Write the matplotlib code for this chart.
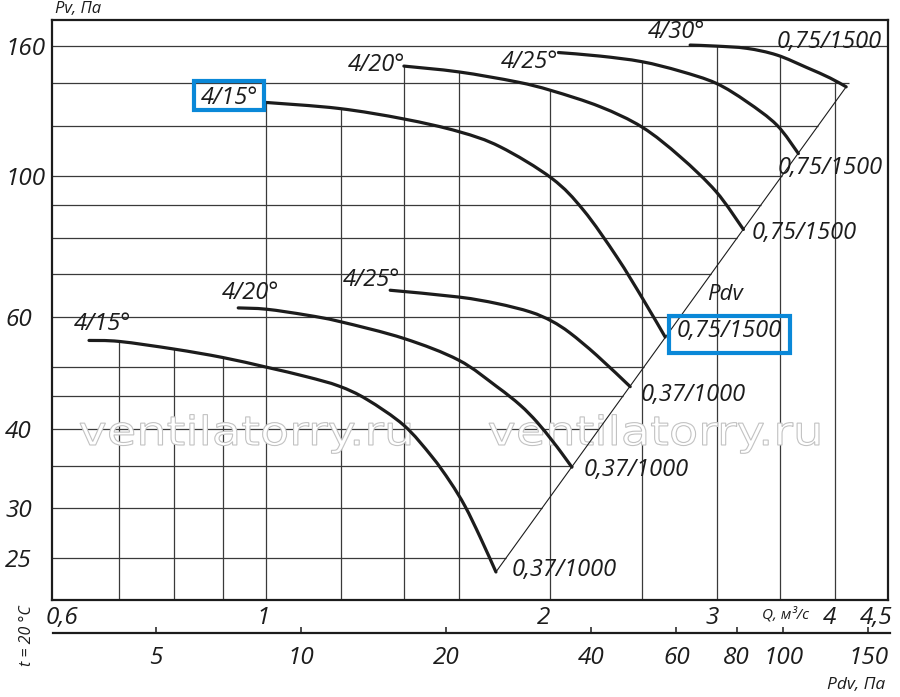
import numpy as np
import matplotlib
matplotlib.use("Agg")
import matplotlib.pyplot as plt
from matplotlib.ticker import FixedLocator, FixedFormatter, NullLocator
from matplotlib.patches import Rectangle, PathPatch
from matplotlib.path import Path
from matplotlib.textpath import TextPath
from matplotlib.font_manager import FontProperties
from matplotlib.transforms import Affine2D, ScaledTranslation

plt.rcParams['font.family'] = ['Open Sans', 'DejaVu Sans']

# ---------------- data (Q in m3/s, Pv in Pa) ----------------
q_up15 = [1.00, 1.194, 1.40, 1.60, 1.77, 2.007, 2.168, 2.352, 2.51, 2.646]
p_up15 = [130.6, 127.8, 123.0, 117.5, 111.2, 99.2, 88.4, 74.6, 63.8, 55.8]

q_up20 = [1.40, 1.60, 1.843, 2.007, 2.258, 2.502, 2.744, 2.996, 3.202]
p_up20 = [149.0, 145.9, 140.7, 136.3, 128.6, 119.4, 107.3, 94.5, 82.4]

q_up25 = [2.040, 2.258, 2.500, 2.744, 2.996, 3.229, 3.474, 3.661]
p_up25 = [156.5, 154.5, 151.4, 146.3, 140.0, 130.9, 120.3, 108.5]

q_up30 = [2.812, 2.996, 3.229, 3.474, 3.737, 3.955, 4.113]
p_up30 = [160.8, 160.2, 158.9, 155.1, 148.2, 142.7, 138.2]

q_lo15 = [0.65, 0.70, 0.80, 0.90, 1.002, 1.105, 1.195, 1.279, 1.40, 1.498, 1.567, 1.625, 1.686, 1.752]
p_lo15 = [55.1, 54.9, 53.4, 51.8, 50.0, 48.3, 46.7, 44.5, 40.5, 36.2, 33.0, 30.2, 27.0, 23.8]

q_lo20 = [0.935, 1.002, 1.105, 1.198, 1.40, 1.60, 1.756, 1.858, 1.936, 2.007, 2.057, 2.108]
p_lo20 = [62.0, 61.7, 60.4, 59.0, 55.5, 51.3, 46.6, 43.6, 41.0, 38.4, 36.6, 34.8]

q_lo25 = [1.354, 1.599, 1.756, 1.905, 2.007, 2.099, 2.240, 2.430]
p_lo25 = [66.1, 64.5, 63.0, 61.1, 59.1, 56.6, 52.2, 46.6]

angle_labels = ['4/15°', '4/20°', '4/25°', '4/15°', '4/20°', '4/25°', '4/30°']
motor_labels = ['0,37/1000', '0,37/1000', '0,37/1000',
                '0,75/1500', '0,75/1500', '0,75/1500', '0,75/1500']

grid_q = [0.7, 0.8, 0.9, 1.0, 1.2, 1.4, 1.6, 2.0, 2.5, 3.0, 3.5, 4.0]
grid_p = [25, 30, 35, 40, 45, 50, 60, 70, 80, 90, 100, 120, 140, 160]

q_ticks = [0.6, 1, 2, 3, 4, 4.5]
q_tick_labels = ['0,6', '1', '2', '3', '4', '4,5']
p_ticks = [25, 30, 40, 60, 100, 160]
p_tick_labels = ['25', '30', '40', '60', '100', '160']
pdv_ticks = [5, 10, 20, 40, 60, 80, 100, 150]
pdv_tick_labels = ['5', '10', '20', '40', '60', '80', '100', '150']

curves = [(q_lo15, p_lo15), (q_lo20, p_lo20), (q_lo25, p_lo25),
          (q_up15, p_up15), (q_up20, p_up20), (q_up25, p_up25), (q_up30, p_up30)]

# ---------------- layout / style ----------------
W, H = 900, 697
INK = '#1c1c1c'
GRID = '#3a3a3a'
BLUE = '#0a88d8'
LBL = 17
TICK = 17.5
# (start label offset pt, start ha, end label offset pt)
label_layout = [((10, 11.7), 'center', (11.5, 1.7)),
                ((9.1, 10.4), 'center', (8.4, -1.9)),
                ((-13.4, 7.2), 'center', (7.2, -6.0)),
                ((-5.5, 2.9), 'right', (8.4, 4.3)),
                ((1.2, 0.7), 'right', (6.0, -2.7)),
                ((0.0, -6.8), 'right', (-15.1, -10.7)),
                ((10.8, 9.6), 'right', (-49.9, 32.4))]
q_label_shift_px = [6, -3, -7, -5, -5, -7]

fig = plt.figure(figsize=(W / 100, H / 100), dpi=100)
ax = fig.add_axes([51.7 / W, 1 - 600 / H, 836 / W, 580 / H])
ax.set_xscale('log')
ax.set_yscale('log')
xlim = (0.5935, 4.551)
ylim = (21.5, 176.1)
ax.set_xlim(*xlim)
ax.set_ylim(*ylim)
ax.set_autoscale_on(False)

for s in ax.spines.values():
    s.set_linewidth(1.6)
    s.set_color(INK)

# Pdv reference line through the two extreme curve ends (log-log straight line)
pq0, pp0 = q_lo15[-1], p_lo15[-1]
pq1, pp1 = q_up30[-1], p_up30[-1]
slope = (np.log10(pp1) - np.log10(pp0)) / (np.log10(pq1) - np.log10(pq0))


def pdv_q_at(p):
    return 10 ** (np.log10(pq0) + (np.log10(p) - np.log10(pp0)) / slope)


def top_at(q):
    best = None
    for cq, cp in curves:
        if cq[0] - 1e-6 <= q <= cq[-1] + 1e-6:
            v = 10 ** np.interp(np.log10(q), np.log10(cq), np.log10(cp))
            best = v if best is None else max(best, v)
    return best if best is not None else ylim[1]


def smooth_path(q, p):
    """Smooth Bezier path through the read points (built in log-log space)."""
    pts = np.column_stack([np.log10(q), np.log10(p)])
    n = len(pts)
    verts = [pts[0]]
    codes = [Path.MOVETO]
    for i in range(n - 1):
        a = pts[i - 1] if i > 0 else pts[i]
        b = pts[i]
        c = pts[i + 1]
        d = pts[i + 2] if i + 2 < n else pts[i + 1]
        verts += [b + (c - a) / 6.0, c - (d - b) / 6.0, c]
        codes += [Path.CURVE4] * 3
    return Path(10 ** np.array(verts), codes)


# grid lines
for p in grid_p:
    qend = pdv_q_at(p) if p < 150 else xlim[1]
    ax.plot([xlim[0], qend], [p, p], color=GRID, lw=0.9, zorder=1,
            solid_capstyle='butt')
for q in grid_q:
    ax.plot([q, q], [ylim[0], top_at(q)], color=GRID, lw=0.9, zorder=1,
            solid_capstyle='butt')

# Pdv line
ax.plot([pq0, pq1], [pp0, pp1], color=INK, lw=0.8, zorder=2)

# watermark (hollow letters)
wm_path = TextPath((0, 0), 'ventilatorry.ru', size=40,
                   prop=FontProperties(family='DejaVu Sans'))
ext = wm_path.get_extents()
sx = 330.0 / ext.width
for x_left in (80, 489):
    tr = Affine2D().translate(-ext.x0, 0).scale(sx, 1.0).translate(x_left, H - 445)
    wm = PathPatch(wm_path, transform=tr, fc='white', ec='#c2c2c2', lw=0.8,
                   zorder=1.5)
    ax.add_artist(wm)

# curves and labels
for (cq, cp), a_lab, m_lab, (so, sha, eo) in zip(curves, angle_labels,
                                                 motor_labels, label_layout):
    ax.add_artist(PathPatch(smooth_path(cq, cp), transform=ax.transData,
                            fill=False, ec=INK, lw=2.3, zorder=3,
                            capstyle='round', joinstyle='round'))
    ax.annotate(a_lab, xy=(cq[0], cp[0]), xytext=so, textcoords='offset points',
                ha=sha, va='center', fontsize=LBL, fontstyle='italic', color=INK,
                zorder=4)
    ax.annotate(m_lab, xy=(cq[-1], cp[-1]), xytext=eo, textcoords='offset points',
                ha='left', va='center', fontsize=LBL, fontstyle='italic', color=INK,
                zorder=4)

ax.text(725 / W, 1 - 294 / H, 'Pdv', transform=fig.transFigure, ha='center',
        va='center', fontsize=16, fontstyle='italic', color=INK, zorder=4)

# ticks
ax.xaxis.set_major_locator(FixedLocator(q_ticks))
ax.xaxis.set_major_formatter(FixedFormatter(q_tick_labels))
ax.xaxis.set_minor_locator(NullLocator())
ax.yaxis.set_major_locator(FixedLocator(p_ticks))
ax.yaxis.set_major_formatter(FixedFormatter(p_tick_labels))
ax.yaxis.set_minor_locator(NullLocator())
ax.tick_params(axis='x', length=0, pad=4.0, labelsize=TICK, colors=INK)
ax.tick_params(axis='y', length=0, pad=33.5, labelsize=TICK, colors=INK)
for t in ax.get_xticklabels() + ax.get_yticklabels():
    t.set_fontstyle('italic')
for t in ax.get_yticklabels():
    t.set_horizontalalignment('left')
for tick, dx in zip(ax.xaxis.get_major_ticks(), q_label_shift_px):
    tick.label1.set_transform(tick.label1.get_transform() +
                              ScaledTranslation(dx / 100, 0, fig.dpi_scale_trans))

# secondary Pdv scale
ax2 = fig.add_axes([53 / W, 1 - 633.3 / H, 837 / W, 0.0001])
ax2.set_xscale('log')
ax2.set_xlim(3.057, 166.4)
ax2.patch.set_visible(False)
for s in ('top', 'left', 'right'):
    ax2.spines[s].set_visible(False)
ax2.spines['bottom'].set_linewidth(1.6)
ax2.spines['bottom'].set_color(INK)
ax2.set_yticks([])
ax2.xaxis.set_major_locator(FixedLocator(pdv_ticks))
ax2.xaxis.set_major_formatter(FixedFormatter(pdv_tick_labels))
ax2.xaxis.set_minor_locator(NullLocator())
ax2.tick_params(axis='x', direction='in', length=4, width=1.1, pad=9.5,
                labelsize=TICK, colors=INK)
for t in ax2.get_xticklabels():
    t.set_fontstyle('italic')

# axis titles
fig.text(55 / W, 1 - 9.3 / H, 'Pv, Па', ha='left', va='center', fontsize=12,
         fontstyle='italic', color=INK)
fig.text(761.7 / W, 1 - 615 / H, 'Q, м³/с', ha='left', va='center', fontsize=11,
         fontstyle='italic', color=INK)
fig.text(885 / W, 1 - 685 / H, 'Pdv, Па', ha='right', va='center', fontsize=12.5,
         fontstyle='italic', color=INK)
fig.text(26.7 / W, 1 - 635.3 / H, 't = 20 °C', ha='center', va='center',
         fontsize=11.5, fontstyle='italic', rotation=90, color=INK)

# highlight boxes
for (x0, y0, x1, y1) in [(193.7, 81.3, 264, 109.7), (669, 315.8, 789.5, 353.3)]:
    fig.add_artist(Rectangle((x0 / W, 1 - y1 / H), (x1 - x0) / W, (y1 - y0) / H,
                             transform=fig.transFigure, fill=False, ec=BLUE,
                             lw=3.0, zorder=10))

fig.savefig('out.png', dpi=100)
